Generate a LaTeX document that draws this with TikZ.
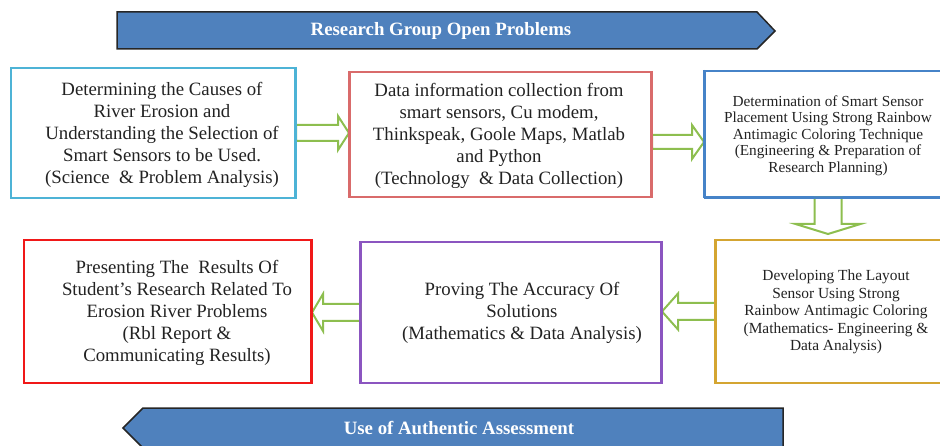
\documentclass[tikz,border=0pt]{standalone}
\usepackage{fontspec}
\setmainfont{Liberation Serif}
\usetikzlibrary{calc}
\definecolor{cBone}{HTML}{4DB3D6}
\definecolor{cBtwo}{HTML}{D96B6B}
\definecolor{cBthree}{HTML}{4683C8}
\definecolor{cBfour}{HTML}{D4A531}
\definecolor{cBfive}{HTML}{8B55C0}
\definecolor{cBsix}{HTML}{F01818}
\definecolor{arrG}{HTML}{8DBE4F}
\definecolor{bannerB}{HTML}{4F81BD}
\definecolor{txtC}{HTML}{222222}
\tikzset{
  box/.style={draw, line width=2pt, inner sep=0pt, fill=none},
  txt/.style={align=center, text=txtC, inner sep=0pt, font=\fontsize{18.8}{22}\selectfont},
  txtthree/.style={align=center, text=txtC, inner sep=0pt, font=\fontsize{15.3}{16.6}\selectfont},
  txtfour/.style={align=center, text=txtC, inner sep=0pt, font=\fontsize{15.4}{17.5}\selectfont},
  blockarr/.style={draw=arrG, line width=2pt, fill=white, line join=miter},
  banner/.style={fill=bannerB, draw=black!85, line width=1.5pt, line join=miter},
  bantxt/.style={text=white, inner sep=0pt, font=\bfseries\fontsize{18.8}{22}\selectfont}
}
\newcommand\blockarrow[5]{%
  \coordinate (ba-s) at #1;
  \coordinate (ba-e) at #2;
  \coordinate (ba-h) at ($(ba-e)!#5!(ba-s)$);
  \draw[blockarr] ($(ba-s)!#3!90:(ba-e)$) -- ($(ba-h)!#3!90:(ba-e)$)
     -- ($(ba-h)!#4!90:(ba-e)$) -- (ba-e) -- ($(ba-h)!#4!-90:(ba-e)$)
     -- ($(ba-h)!#3!-90:(ba-e)$) -- ($(ba-s)!#3!-90:(ba-e)$) -- cycle;
}
\begin{document}
\begin{tikzpicture}[x=1pt,y=-1pt]
\useasboundingbox (0,0) rectangle (940,446);
\clip (0,0) rectangle (940,446);

% banners
\draw[banner] (117,12) -- (757,12) -- (775,31) -- (757,49) -- (117,49) -- cycle;
\node[bantxt] (topban) at (441,31) {Research Group Open Problems};
\draw[banner] (783,408) -- (783,448) -- (143,448) -- (123,428) -- (143,408) -- cycle;
\node[bantxt] (botban) at (459,428) {Use of Authentic Assessment};

% boxes (outlines)
\node[box, draw=cBone, minimum width=284pt, minimum height=130pt] (b1) at (153,133) {};
\node[box, draw=cBtwo, minimum width=301pt, minimum height=125pt] (b2) at (500.5,134.5) {};
\node[box, draw=cBthree, minimum width=246pt, minimum height=126pt] (b3) at (828,134) {};
\node[box, draw=cBfour, minimum width=240pt, minimum height=143pt] (b4) at (836,311.5) {};
\node[box, draw=cBfive, minimum width=300pt, minimum height=141pt] (b5) at (511,312.5) {};
\node[box, draw=cBsix, minimum width=287pt, minimum height=143pt] (b6) at (167.5,311.5) {};

% arrows
\blockarrow{(b1.east)}{(b1.east -| b2.west)}{8pt}{17pt}{11pt}
\coordinate (a2s) at ([yshift=-7.5pt]b2.east);
\blockarrow{(a2s)}{(a2s -| b3.west)}{7pt}{17pt}{12pt}
\coordinate (a3e) at ([yshift=-36pt]b3.south);
\blockarrow{(b3.south)}{(a3e)}{13.5pt}{32.5pt}{10pt}
\blockarrow{(b4.west)}{(b4.west -| b5.east)}{8.5pt}{18pt}{16pt}
\blockarrow{(b5.west)}{(b5.west -| b6.east)}{8.5pt}{18.5pt}{11pt}

% redraw box borders over arrow ends
\draw[cBone, line width=2pt] (b1.north east) -- (b1.south east);
\draw[cBtwo, line width=2pt] (b2.north west) -- (b2.south west);
\draw[cBtwo, line width=2pt] (b2.north east) -- (b2.south east);
\draw[cBthree, line width=2pt] (b3.north west) -- (b3.south west);
\draw[cBthree, line width=2pt] (b3.south west) -- (b3.south east);
\draw[cBfour, line width=2pt] (b4.north west) -- (b4.south west);
\draw[cBfive, line width=2pt] (b5.north west) -- (b5.south west);
\draw[cBfive, line width=2pt] (b5.north east) -- (b5.south east);
\draw[cBsix, line width=2pt] (b6.north east) -- (b6.south east);

% texts
\node[txt] (t1) at (162,135) {Determining the Causes of\\River Erosion and\\Understanding the Selection of\\Smart Sensors to be Used.\\(Science~ \& Problem Analysis)};
\node[txt] (t2) at (499,136) {Data information collection from\\smart sensors, Cu modem,\\Thinkspeak, Goole Maps, Matlab\\and Python\\(Technology~ \& Data Collection)};
\node[txtthree] (t3) at (828,135.5) {Determination of Smart Sensor\\Placement Using Strong Rainbow\\Antimagic Coloring Technique\\(Engineering \& Preparation of\\Research Planning)};
\node[txtfour] (t4) at (836,312) {Developing The Layout\\Sensor Using Strong\\Rainbow Antimagic Coloring\\(Mathematics- Engineering \&\\Data Analysis)};
\node[txt] (t5) at (522,313) {Proving The Accuracy Of\\Solutions\\(Mathematics \& Data Analysis)};
\node[txt] (t6) at (177,313) {Presenting The~ Results Of\\Student's Research Related To\\Erosion River Problems\\(Rbl Report \&\\Communicating Results)};
\end{tikzpicture}
\end{document}
